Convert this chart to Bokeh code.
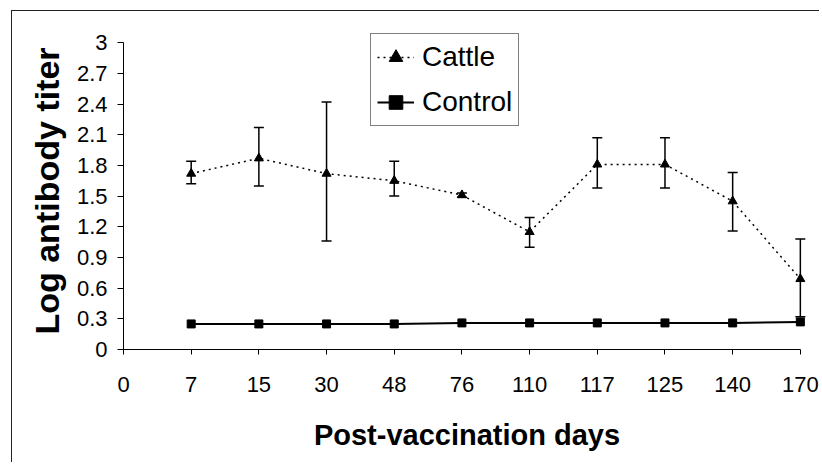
from bokeh.plotting import figure
from bokeh.models import (ColumnDataSource, Whisker, TeeHead, FixedTicker, Range1d,
                          Legend, LegendItem)
from bokeh.embed import file_html
from bokeh.resources import INLINE

# ---- data ----
days = ["0", "7", "15", "30", "48", "76", "110", "117", "125", "140", "170"]
cattle_mean = [1.72, 1.87, 1.72, 1.65, 1.51, 1.15, 1.81, 1.81, 1.45, 0.69]
cattle_upper = [1.84, 2.17, 2.42, 1.84, 1.53, 1.29, 2.07, 2.07, 1.73, 1.08]
cattle_lower = [1.62, 1.60, 1.06, 1.50, 1.49, 1.00, 1.58, 1.58, 1.16, 0.32]
control_mean = [0.25, 0.25, 0.25, 0.25, 0.26, 0.26, 0.26, 0.26, 0.26, 0.27]
y_ticks = [0, 0.3, 0.6, 0.9, 1.2, 1.5, 1.8, 2.1, 2.4, 2.7, 3]
y_labels = ["0", "0.3", "0.6", "0.9", "1.2", "1.5", "1.8", "2.1", "2.4", "2.7", "3"]

x_pos = list(range(1, len(days)))

src = ColumnDataSource(dict(x=x_pos, cattle=cattle_mean, upper=cattle_upper,
                            lower=cattle_lower, control=control_mean))

FONT = "Liberation Sans"

p = figure(width=808, height=452, x_range=Range1d(0, 10.15), y_range=Range1d(0, 3.1),
           output_backend="svg", toolbar_location=None,
           min_border_left=111, min_border_right=10, min_border_top=21, min_border_bottom=114)
p.margin = (10, 0, 0, 11)
p.styles = {"border-top": "1.5px solid #222", "border-left": "1.5px solid #222"}
p.grid.visible = False
p.outline_line_color = None
p.background_fill_color = "white"
p.border_fill_color = "white"

# x axis
xa = p.xaxis[0]
xa.ticker = FixedTicker(ticks=list(range(len(days))))
xa.major_label_overrides = {i: d for i, d in enumerate(days)}
xa.bounds = (0, len(days) - 1)
xa.minor_tick_line_color = None
xa.major_tick_in = 0
xa.major_tick_out = 5
xa.major_label_standoff = 22
xa.major_label_text_font = FONT
xa.major_label_text_font_size = "22px"
xa.major_label_text_color = "black"
xa.axis_label = "Post-vaccination days"
xa.axis_label_text_font = FONT
xa.axis_label_text_font_style = "bold"
xa.axis_label_text_font_size = "29px"
xa.axis_label_text_color = "black"
xa.axis_label_standoff = 24
xa.axis_line_color = "black"
xa.major_tick_line_color = "black"

# y axis
ya = p.yaxis[0]
ya.ticker = FixedTicker(ticks=y_ticks)
ya.major_label_overrides = {t: l for t, l in zip(y_ticks, y_labels)}
ya.bounds = (0, 3)
ya.minor_tick_line_color = None
ya.major_tick_in = 0
ya.major_tick_out = 6
ya.major_label_standoff = 10
ya.major_label_text_font = FONT
ya.major_label_text_font_size = "22px"
ya.major_label_text_color = "black"
ya.axis_label = "Log antibody titer"
ya.axis_label_text_font = FONT
ya.axis_label_text_font_style = "bold"
ya.axis_label_text_font_size = "34px"
ya.axis_label_text_color = "black"
ya.axis_label_standoff = 8
ya.axis_line_color = "black"
ya.major_tick_line_color = "black"

# series
cl = p.line("x", "cattle", source=src, line_color="black", line_width=1.5, line_dash="2 4")
cs = p.scatter("x", "cattle", source=src, marker="triangle", size=9,
               fill_color="black", line_color="black")
ctl = p.line("x", "control", source=src, line_color="black", line_width=2)
cts = p.scatter("x", "control", source=src, marker="square", size=8,
                fill_color="black", line_color="black")

wh = Whisker(base="x", upper="upper", lower="lower", source=src, dimension="height",
             line_color="black", line_width=1.5,
             upper_head=TeeHead(size=10, line_color="black", line_width=1.5),
             lower_head=TeeHead(size=10, line_color="black", line_width=1.5))
p.add_layout(wh)

legend = Legend(items=[LegendItem(label="Cattle", renderers=[cl, cs]),
                       LegendItem(label="Control", renderers=[ctl, cts])],
                location=(247, 223), orientation="vertical",
                label_text_font=FONT, label_text_font_size="28px", label_text_color="black",
                glyph_width=37, glyph_height=34, label_height=34, label_standoff=8,
                spacing=11, padding=6, margin=0,
                border_line_color="black", border_line_width=1,
                background_fill_color="white", background_fill_alpha=1)
p.add_layout(legend)

open("out.html", "w").write(file_html(p, INLINE))
